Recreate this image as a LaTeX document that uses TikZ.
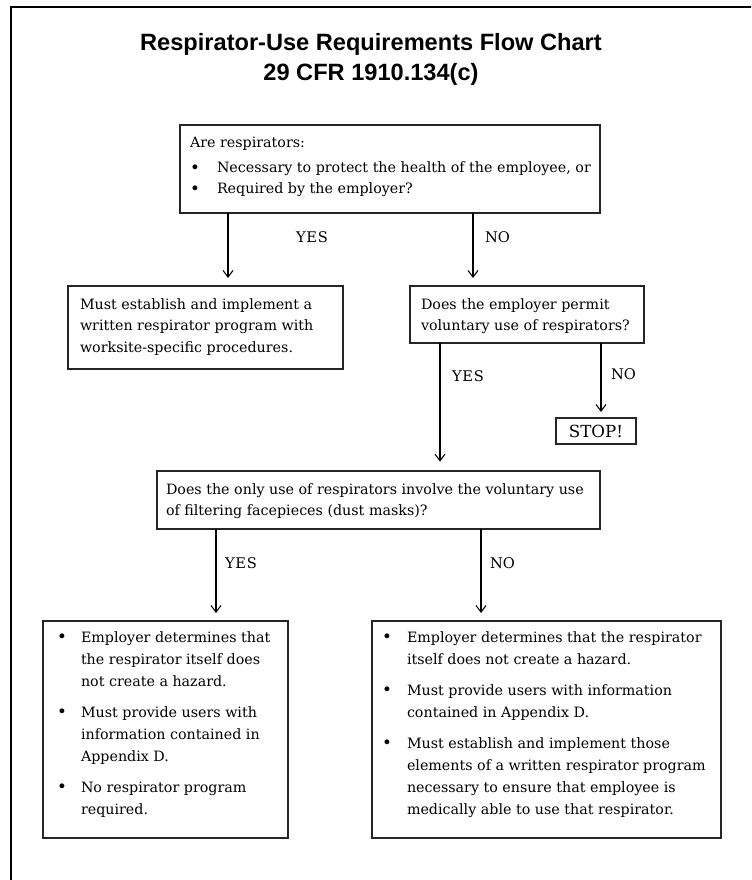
\documentclass[tikz,border=0pt]{standalone}
\usepackage{fontspec}
\setmainfont{DejaVu Serif}
\newfontfamily\titlefont{Liberation Sans}
\usetikzlibrary{arrows.meta}

% bullet with a fixed hanging width, and the matching indent for wrapped lines
\newcommand\bul[1]{\makebox[#1][l]{\raisebox{-0.2pt}{\fontsize{12.5}{12}\selectfont\textbullet}}}
\newcommand\hang[1]{\hspace*{#1}}

\begin{document}
\begin{tikzpicture}[x=0.75pt,y=-0.75pt,
  box/.style={draw=black!85, line width=1.1pt, inner sep=0pt, outer sep=0pt, fill=white},
  flow/.style={draw=black, line width=0.8pt, -{Straight Barb[length=5pt,width=7.5pt]}, shorten >=6pt},
  body/.style={inner sep=0pt, outer sep=0pt, anchor=base west, font=\fontsize{10.7}{16.5}\selectfont},
  lbl/.style={inner sep=0pt, outer sep=0pt, anchor=base west, font=\fontsize{11}{12}\selectfont},
  ttl/.style={inner sep=0pt, anchor=base, font=\titlefont\bfseries\fontsize{17.7}{20}\selectfont},
]
\useasboundingbox (0,0) rectangle (751,880);
\fill[white] (0,0) rectangle (751,880);
\clip (0,0) rectangle (751,880);

% page frame: only its top and left edges fall inside the sheet
\draw[line width=1.6pt] (11,900) -- (11,7) -- (770,7);

% title
\node[ttl] (title) at (371,51) {Respirator-Use Requirements Flow Chart};
\node[ttl] (subtitle) at (371,81) {29 CFR 1910.134(c)};

% boxes
\node[box, minimum width=315pt, minimum height=66pt] (q1) at (390,169) {};
\node[box, minimum width=206.25pt, minimum height=62.25pt] (prog) at (205.5,327.5) {};
\node[box, minimum width=175.5pt, minimum height=42.75pt] (q2) at (527,314.5) {};
\node[box, minimum width=60pt, minimum height=19.5pt, font=\fontsize{12.5}{14}\selectfont] (stop) at (596,431) {STOP!};
\node[box, minimum width=332.25pt, minimum height=43.5pt] (q3) at (378.5,500) {};
\node[box, minimum width=183.75pt, minimum height=162.75pt] (yesbox) at (165.5,729.5) {};
\node[box, minimum width=261.75pt, minimum height=162.75pt] (nobox) at (546.5,729.5) {};

% box texts
\node[body] (q1t) at (190,148) {\parbox[t]{330pt}{%
  Are respirators:\\[2.2pt]
  \bul{20.25pt}Necessary to protect the health of the employee, or\\[-0.8pt]
  \bul{20.25pt}Required by the employer?}};

\node[body] (progt) at (80,309.5) {\parbox[t]{220pt}{%
  Must establish and implement a\\[-0.4pt]
  written respirator program with\\[-0.4pt]
  worksite-specific procedures.}};

\node[body] (q2t) at (421,309.5) {\parbox[t]{200pt}{%
  Does the employer permit\\[-0.4pt]
  voluntary use of respirators?}};

\node[body] (q3t) at (166,494.5) {\parbox[t]{340pt}{%
  Does the only use of respirators involve the voluntary use\\[-0.8pt]
  of filtering facepieces (dust masks)?}};

\node[body] (yest) at (57,642.5) {\parbox[t]{230pt}{%
  \bul{18pt}Employer determines that\\
  \hang{18pt}the respirator itself does\\
  \hang{18pt}not create a hazard.\\[6.75pt]
  \bul{18pt}Must provide users with\\
  \hang{18pt}information contained in\\
  \hang{18pt}Appendix D.\\[6.75pt]
  \bul{18pt}No respirator program\\
  \hang{18pt}required.}};

\node[body] (not) at (382,642.5) {\parbox[t]{320pt}{%
  \bul{18.75pt}Employer determines that the respirator\\
  \hang{18.75pt}itself does not create a hazard.\\[6.75pt]
  \bul{18.75pt}Must provide users with information\\
  \hang{18.75pt}contained in Appendix D.\\[6.75pt]
  \bul{18.75pt}Must establish and implement those\\
  \hang{18.75pt}elements of a written respirator program\\
  \hang{18.75pt}necessary to ensure that employee is\\
  \hang{18.75pt}medically able to use that respirator.}};

% connector columns
\coordinate (c1) at (228,0);
\coordinate (c2) at (473,0);
\coordinate (c3) at (440,0);
\coordinate (c4) at (601,0);
\coordinate (c5) at (216,0);
\coordinate (c6) at (481,0);

% connectors
\draw[flow] (q1.south -| c1) -- (prog.north -| c1);
\draw[flow] (q1.south -| c2) -- (q2.north -| c2);
\draw[flow, shorten >=7pt] (q2.south -| c3) -- (q3.north -| c3);
\draw[flow, shorten >=4.5pt] (q2.south -| c4) -- (stop.north -| c4);
\draw[flow] (q3.south -| c5) -- (yesbox.north -| c5);
\draw[flow] (q3.south -| c6) -- (nobox.north -| c6);

% branch labels
\node[lbl] (y1) at (296,243) {Y\kern0.6pt E\kern0.6pt S};
\node[lbl] (n1) at (485,243) {NO};
\node[lbl] (y2) at (452,381) {Y\kern0.6pt E\kern0.6pt S};
\node[lbl] (n2) at (611,379) {NO};
\node[lbl] (y3) at (225,568) {Y\kern0.6pt E\kern0.6pt S};
\node[lbl] (n3) at (490,568) {NO};
\end{tikzpicture}
\end{document}
